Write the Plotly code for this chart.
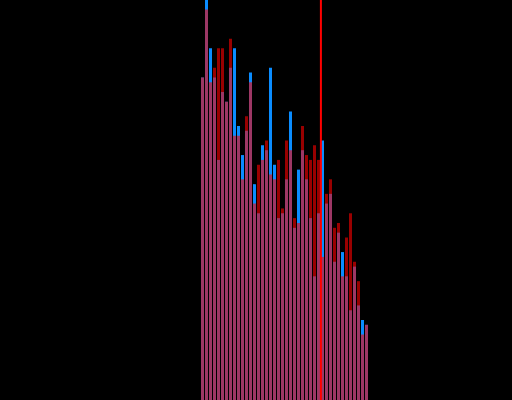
import plotly.graph_objects as go

# bin index for each bar
bins = list(range(42))

# counts
blue_counts = [67, 84, 73, 67, 50, 64, 62, 69, 73, 57, 51, 56, 68, 45,
               39, 53, 52, 69, 49, 38, 39, 46, 60, 36, 48, 52, 46, 38,
               26, 39, 54, 41, 43, 29, 35, 31, 26, 19, 28, 20, 17, 16]
red_counts = [67, 81, 66, 69, 73, 73, 62, 75, 55, 55, 46, 59, 66, 41,
              49, 50, 54, 47, 46, 50, 40, 54, 52, 38, 37, 57, 51, 50,
              53, 50, 30, 43, 46, 36, 37, 26, 34, 39, 29, 25, 14, 16]

# vertical marker position
marker_x = 29.6

fig = go.Figure()

fig.add_trace(go.Bar(
    x=bins,
    y=blue_counts,
    marker=dict(color='rgb(10,140,255)', line=dict(width=0)),
    name='blue'
))

fig.add_trace(go.Bar(
    x=bins,
    y=red_counts,
    marker=dict(color='rgb(255,0,0)', line=dict(width=0)),
    opacity=0.6,
    name='red'
))

fig.add_vline(x=marker_x, line=dict(color='rgb(255,0,0)', width=2))

fig.update_layout(
    width=512,
    height=400,
    barmode='overlay',
    bargap=0.25,
    showlegend=False,
    paper_bgcolor='black',
    plot_bgcolor='black',
    margin=dict(l=0, r=0, t=0, b=0),
    xaxis=dict(visible=False, range=[-50.625, 77.375]),
    yaxis=dict(visible=False, range=[0.5, 82.97]),
)

# page fills the window edge to edge
fig.write_html(
    "out.html",
    config={'displayModeBar': False},
    post_script="document.body.style.margin='0';document.body.style.background='black';"
)
